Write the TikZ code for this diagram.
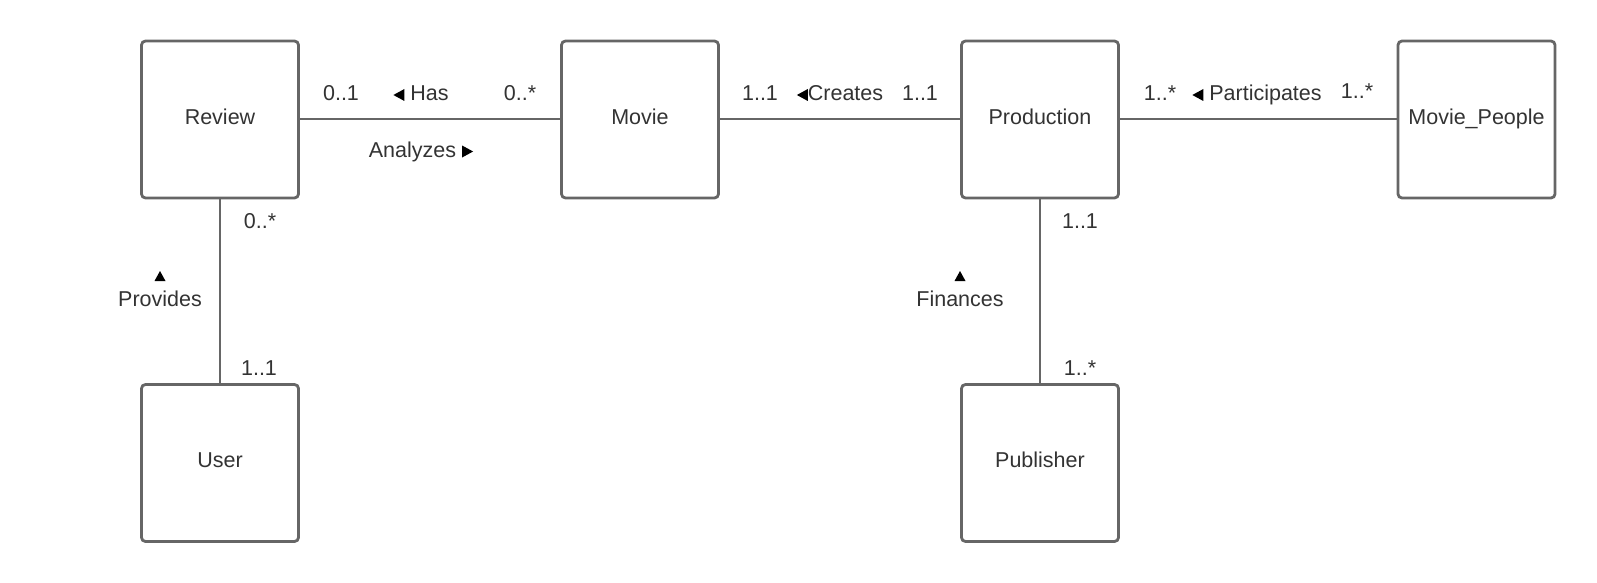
\documentclass[tikz,border=0pt]{standalone}
\usepackage{fontspec}
\setmainfont{Liberation Sans}
\usetikzlibrary{arrows,shapes}
\definecolor{edgegray}{HTML}{666666}
\definecolor{textgray}{HTML}{333333}
\tikzstyle{entity}=[rectangle,draw=edgegray,line width=2.8pt,rounded corners=4pt,fill=white,minimum size=157pt,inner sep=0pt,text height=15.5pt,text depth=6pt,text=textgray,font=\fontsize{21.5}{25}\selectfont]
\tikzstyle{assoc} = [draw=edgegray,line width=2pt]
\tikzstyle{mult} = [anchor=base,inner sep=0pt,text=textgray,font=\fontsize{21.5}{25}\selectfont]
\newcommand{\tipl}{\tikz[x=1pt,y=1pt,baseline=0pt]\fill[black] (0,6) -- (11,0) -- (11,12) -- cycle;}
\newcommand{\tipr}{\tikz[x=1pt,y=1pt,baseline=0pt]\fill[black] (11,6) -- (0,0) -- (0,12) -- cycle;}
\newcommand{\tipu}{\tikz[x=1pt,y=1pt,baseline=0pt]\fill[black] (5.5,10) -- (0,0) -- (11,0) -- cycle;}

\begin{document}
\begin{tikzpicture}[x=1pt,y=-1pt]
    \useasboundingbox[fill=white] (0,0) rectangle (1597,583);

    \foreach \pos/\name/\val in {{(220,119.5)/review/Review}, {(640,119.5)/movie/Movie},
    {(1040,119.5)/production/Production}, {(1476.5,119.5)/people/Movie\_People},
    {(220,463)/user/User}, {(1040,463)/publisher/Publisher}}
        \node[entity] (\name) at \pos {\val};

    \foreach \source/ \dest in {review/movie, movie/production, production/people}
        \path[assoc] (\source.east) -- (\dest.west);
    \foreach \source/ \dest in {review/user, production/publisher}
        \path[assoc] (\source.south) -- (\dest.north);

    % multiplicities and association names
    \foreach \pos/\name/\val in {{(341,101)/m1/0..1}, {(421,101)/hasl/\tipl\ Has},
    {(520,101)/m2/0..*}, {(421,157.5)/anl/Analyzes \tipr},
    {(760,101)/m3/1..1}, {(840,101)/crl/\tipl Creates}, {(920,101)/m4/1..1},
    {(1160,101)/m5/1..*}, {(1257,101)/pal/\tipl\ Participates}, {(1357,99)/m6/1..*},
    {(260,228)/m7/0..*}, {(160,306.5)/prl/Provides}, {(259,375)/m8/1..1},
    {(1080,228)/m9/1..1}, {(960,306.5)/fil/Finances}, {(1080,375)/m10/1..*}}
        \node[mult] (\name) at \pos {\val};

    \node[inner sep=0pt] (pru) at (160,276) {\tipu};
    \node[inner sep=0pt] (fiu) at (960,276) {\tipu};
\end{tikzpicture}
\end{document}
